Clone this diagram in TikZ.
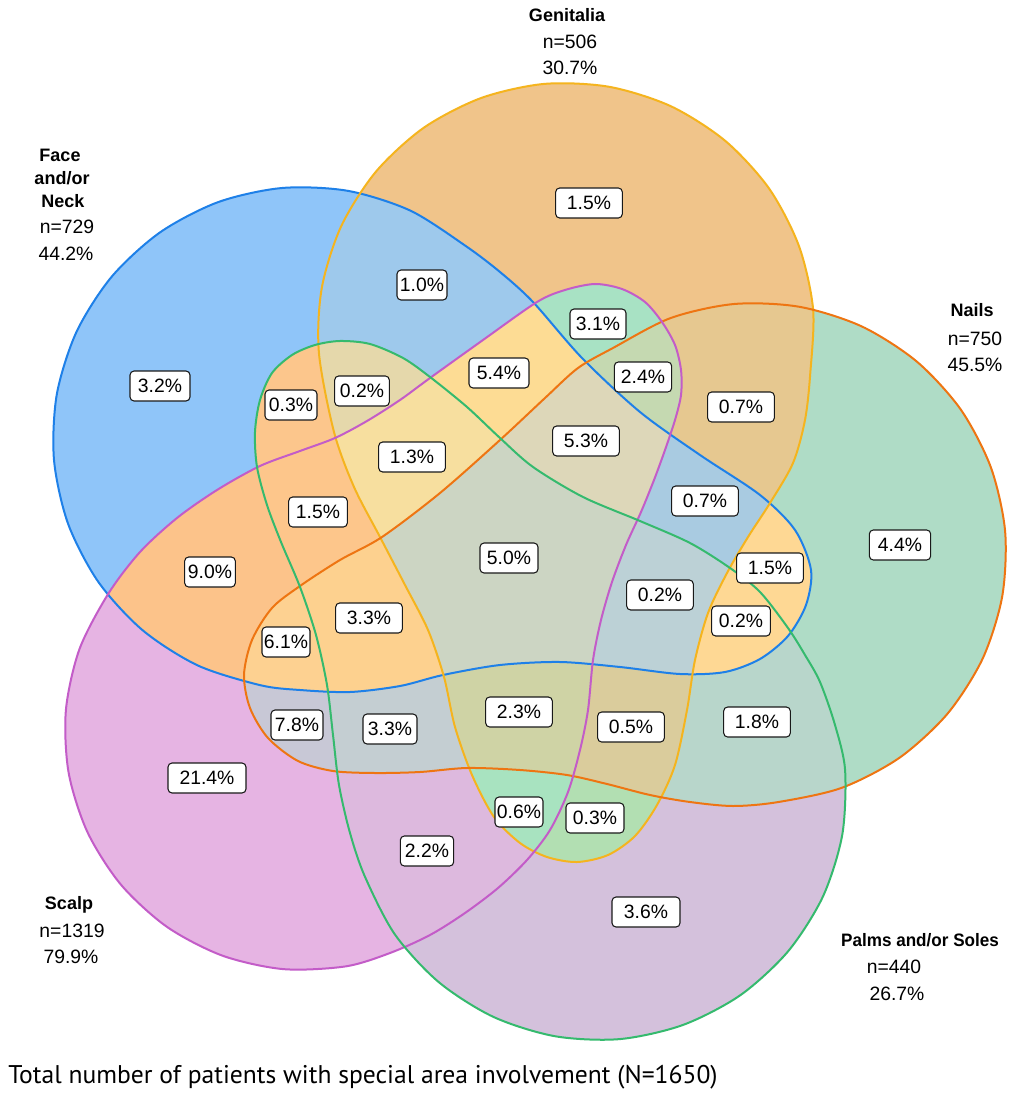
\documentclass[tikz,border=0pt]{standalone}
\usepackage{graphicx}
\usepackage{fontspec}
\setmainfont{Liberation Sans}
\newfontfamily\capfont{PT Sans}
\definecolor{cF}{HTML}{8FC5F9}\definecolor{cG}{HTML}{F0C48A}\definecolor{cN}{HTML}{AFDCC6}
\definecolor{cS}{HTML}{E6B4E3}\definecolor{cP}{HTML}{D4C1DC}
\definecolor{cFG}{HTML}{9EC9EC}\definecolor{cFN}{HTML}{FED894}\definecolor{cFS}{HTML}{FCC38A}
\definecolor{cFP}{HTML}{FCC68C}\definecolor{cGN}{HTML}{E6C890}\definecolor{cGS}{HTML}{A8E2C4}
\definecolor{cGP}{HTML}{B2DFB2}\definecolor{cNS}{HTML}{C8C8D6}\definecolor{cNP}{HTML}{B8D6CB}
\definecolor{cSP}{HTML}{DDB9DE}
\definecolor{cFGN}{HTML}{A9CBE1}\definecolor{cFGS}{HTML}{FDDC94}\definecolor{cFGP}{HTML}{E5D8AB}
\definecolor{cFNS}{HTML}{FDD191}\definecolor{cFNP}{HTML}{FED894}\definecolor{cFSP}{HTML}{FDC68B}
\definecolor{cGNS}{HTML}{C5D9B1}\definecolor{cGNP}{HTML}{DACC9C}\definecolor{cGSP}{HTML}{A8E3C0}
\definecolor{cNSP}{HTML}{C4CED2}
\definecolor{cFGNS}{HTML}{DDD7B9}\definecolor{cFGNP}{HTML}{BCD1D6}\definecolor{cFGSP}{HTML}{F7DF9F}
\definecolor{cFNSP}{HTML}{FDD18F}\definecolor{cGNSP}{HTML}{CFD3A5}\definecolor{cALL}{HTML}{CCD5C3}
\definecolor{sF}{HTML}{1E80E8}\definecolor{sG}{HTML}{F5B41E}\definecolor{sN}{HTML}{EE7512}
\definecolor{sS}{HTML}{C35CC8}\definecolor{sP}{HTML}{35BA6E}
\newcommand\regtwo[3]{\begin{scope}\clip #1;\fill[#3] #2;\end{scope}}
\newcommand\regthree[4]{\begin{scope}\clip #1;\clip #2;\fill[#4] #3;\end{scope}}
\newcommand\regfour[5]{\begin{scope}\clip #1;\clip #2;\clip #3;\fill[#5] #4;\end{scope}}
\newcommand\regfive[6]{\begin{scope}\clip #1;\clip #2;\clip #3;\clip #4;\fill[#6] #5;\end{scope}}
\begin{document}
\begin{tikzpicture}[x=0.75pt,y=-0.75pt,
  lab/.style={draw=black!90, fill=white, rounded corners=3pt, line width=0.8pt, inner sep=0pt,
    minimum height=22.5pt, font=\fontsize{14.5}{16}\selectfont},
  ttl/.style={anchor=base, inner sep=0pt, font=\fontsize{13.5}{16}\selectfont\bfseries},
  num/.style={anchor=base, inner sep=0pt, font=\fontsize{14.5}{16}\selectfont},
  edge/.style={line width=1.5pt}]
\useasboundingbox (0,0) rectangle (1014,1094);
\fill[white] (0,0) rectangle (1014,1094);
\def\pF{plot[smooth cycle] coordinates{(260.4,685.2) (197.9,665.5) (142.7,630.3) (98.4,582.0) (68.1,523.8) (54.0,459.9) (56.8,394.4) (76.5,331.9) (111.7,276.7) (160.0,232.4) (218.2,202.1) (282.1,188.0) (347.6,190.8) (410.1,210.5) (465.3,245.7) (500,272) (533,302) (582,358) (640,412) (700,455) (760,495) (795,530) (811,570) (806,605) (788,636) (760,659) (725,672) (680,674) (620,667) (560,662) (500,665) (443,675) (400,686) (350,692) (300,690)}}
\def\pG{plot[smooth cycle] coordinates{(318.9,352.6) (321.8,287.9) (341.2,226.2) (376.0,171.6) (423.7,127.8) (481.2,98.0) (544.4,83.9) (609.1,86.8) (670.8,106.2) (725.4,141.0) (769.2,188.7) (799.0,246.2) (813.1,309.4) (810.2,374.1) (805,420) (793,463) (770,503) (748,537) (727,573) (708,613) (695,660) (687,710) (675,765) (657,805) (635,836) (608,855) (577,862) (547,857) (520,843) (494,817) (472,775) (455,727) (444,677) (428,630) (405,585) (380,537) (354,487) (334,432)}}
\def\pN{plot[smooth cycle] coordinates{(578,368) (612.6,348.2) (670.5,318.1) (734.2,304.0) (799.4,306.8) (861.7,326.4) (916.7,361.5) (960.8,409.6) (990.9,467.5) (1005.1,531.2) (1002.2,596.4) (982.6,658.7) (947.5,713.7) (899.4,757.8) (841.5,787.9) (777.8,802.1) (733,806) (690,802) (650,795) (607,784) (567,775) (520,770) (467,768) (420,772) (375,773) (333,771) (298,761) (268,738) (250,708) (244,675) (252,640) (272,608) (300,586) (340,560) (382,537) (440,493) (500,440) (545,398)}}
\def\pS{plot[smooth cycle] coordinates{(345.5,966.4) (283.2,969.1) (222.3,955.6) (166.9,926.8) (120.9,884.6) (87.4,832.0) (68.6,772.5) (65.9,710.2) (79.4,649.3) (108.2,593.9) (140,552) (177,518) (217,490) (260,466) (300,451) (335,438) (367,421) (400,400) (430,378) (483,340) (537,302) (565,290) (595,284) (622,289) (645,302) (662,322) (675,345) (681,370) (681,395) (675,420) (665,450) (654,480) (641,512) (626,545) (612,582) (601,620) (593,660) (588,710) (580,750) (568,792) (550,830) (527,860) (498,888) (465,913) (430,935) (390,953)}}
\def\pP{plot[smooth cycle] coordinates{(365.0,876.8) (394.8,934.3) (438.6,982.0) (493.2,1016.8) (554.9,1036.2) (619.6,1039.1) (682.8,1025.0) (740.3,995.2) (788.0,951.4) (822.8,896.8) (842.2,835.1) (845.1,770.4) (835,725) (820,682) (805,655) (788,628) (760,592) (730,568) (690,543) (640,521) (583,497) (533,467) (500,438) (467,407) (430,377) (403,358) (370,344) (340,341) (315,345) (292,355) (272,373) (260,400) (255,432) (257,467) (267,505) (281,542) (300,587) (316,635) (327,685) (333,735) (339,785) (350,833)}}
% singles
\fill[cF] \pF; \fill[cG] \pG; \fill[cN] \pN; \fill[cS] \pS; \fill[cP] \pP;
% pairs
\regtwo{\pF}{\pG}{cFG} \regtwo{\pF}{\pN}{cFN} \regtwo{\pF}{\pS}{cFS} \regtwo{\pF}{\pP}{cFP}
\regtwo{\pG}{\pN}{cGN} \regtwo{\pG}{\pS}{cGS} \regtwo{\pG}{\pP}{cGP}
\regtwo{\pN}{\pS}{cNS} \regtwo{\pN}{\pP}{cNP} \regtwo{\pS}{\pP}{cSP}
% triples
\regthree{\pF}{\pG}{\pN}{cFGN} \regthree{\pF}{\pG}{\pS}{cFGS} \regthree{\pF}{\pG}{\pP}{cFGP}
\regthree{\pF}{\pN}{\pS}{cFNS} \regthree{\pF}{\pN}{\pP}{cFNP} \regthree{\pF}{\pS}{\pP}{cFSP}
\regthree{\pG}{\pN}{\pS}{cGNS} \regthree{\pG}{\pN}{\pP}{cGNP} \regthree{\pG}{\pS}{\pP}{cGSP}
\regthree{\pN}{\pS}{\pP}{cNSP}
% quads
\regfour{\pF}{\pG}{\pN}{\pS}{cFGNS} \regfour{\pF}{\pG}{\pN}{\pP}{cFGNP} \regfour{\pF}{\pG}{\pS}{\pP}{cFGSP}
\regfour{\pF}{\pN}{\pS}{\pP}{cFNSP} \regfour{\pG}{\pN}{\pS}{\pP}{cGNSP}
% all five
\regfive{\pF}{\pG}{\pN}{\pS}{\pP}{cALL}
% outlines
\draw[edge, sF] \pF; \draw[edge, sG] \pG; \draw[edge, sN] \pN; \draw[edge, sS] \pS; \draw[edge, sP] \pP;
% region labels
\node[lab, minimum width=45pt] (l1) at (160,386) {3.2\%};
\node[lab, minimum width=50pt] (l2) at (589,203) {1.5\%};
\node[lab, minimum width=37.5pt] (l3) at (422,285) {1.0\%};
\node[lab, minimum width=42pt] (l4) at (598,324) {3.1\%};
\node[lab, minimum width=39pt] (l5) at (291,405) {0.3\%};
\node[lab, minimum width=41pt] (l6) at (362,391) {0.2\%};
\node[lab, minimum width=45pt] (l7) at (499,373) {5.4\%};
\node[lab, minimum width=43pt] (l8) at (643,377) {2.4\%};
\node[lab, minimum width=50pt] (l9) at (741,407) {0.7\%};
\node[lab, minimum width=50pt] (l10) at (412,457) {1.3\%};
\node[lab, minimum width=50pt] (l11) at (586,441) {5.3\%};
\node[lab, minimum width=44pt] (l12) at (318,512) {1.5\%};
\node[lab, minimum width=50pt] (l13) at (705,501) {0.7\%};
\node[lab, minimum width=38pt] (l14) at (210,572) {9.0\%};
\node[lab, minimum width=43.5pt] (l15) at (509,558) {5.0\%};
\node[lab, minimum width=46pt] (l16) at (900,545) {4.4\%};
\node[lab, minimum width=50pt] (l17) at (770,568) {1.5\%};
\node[lab, minimum width=50pt] (l18) at (369,618) {3.3\%};
\node[lab, minimum width=36pt] (l19) at (286,642) {6.1\%};
\node[lab, minimum width=50pt] (l20) at (660,595) {0.2\%};
\node[lab, minimum width=44pt] (l21) at (741,621) {0.2\%};
\node[lab, minimum width=39pt] (l22) at (297,725) {7.8\%};
\node[lab, minimum width=40.5pt] (l23) at (390,729) {3.3\%};
\node[lab, minimum width=50pt] (l24) at (519,712) {2.3\%};
\node[lab, minimum width=50pt] (l25) at (631,727) {0.5\%};
\node[lab, minimum width=50pt] (l26) at (757,722) {1.8\%};
\node[lab, minimum width=58.5pt] (l27) at (207,778) {21.4\%};
\node[lab, minimum width=36pt] (l28) at (519,812) {0.6\%};
\node[lab, minimum width=43.5pt] (l29) at (595,818) {0.3\%};
\node[lab, minimum width=40pt] (l30) at (427,851) {2.2\%};
\node[lab, minimum width=51pt] (l31) at (646,912) {3.6\%};
% set titles
\node[ttl] (g1) at (567,22) {Genitalia};
\node[num] (g2) at (570,49) {n=506};
\node[num] (g3) at (570,75) {30.7\%};
\node[ttl] (f1) at (60,162) {Face};
\node[ttl] (f2) at (62,185) {and/or};
\node[ttl] (f3) at (63,208) {Neck};
\node[num] (f4) at (67,234) {n=729};
\node[num] (f5) at (66,261) {44.2\%};
\node[ttl] (n1) at (972,317) {Nails};
\node[num] (n2) at (975,345) {n=750};
\node[num] (n3) at (975,372) {45.5\%};
\node[ttl] (s1) at (69,909) {Scalp};
\node[num] (s2) at (72,937) {n=1319};
\node[num] (s3) at (71,963) {79.9\%};
\node[ttl] (p1) at (920,946) {\scalebox{0.95}[1]{Palms and/or Soles}};
\node[num] (p2) at (894,973) {n=440};
\node[num] (p3) at (897,1000) {26.7\%};
\node[anchor=base west, inner sep=0pt] (cap) at (8,1083) {\resizebox{532pt}{!}{\capfont\fontsize{18}{20}\selectfont Total number of patients with special area involvement (N=1650)}};
\end{tikzpicture}
\end{document}
